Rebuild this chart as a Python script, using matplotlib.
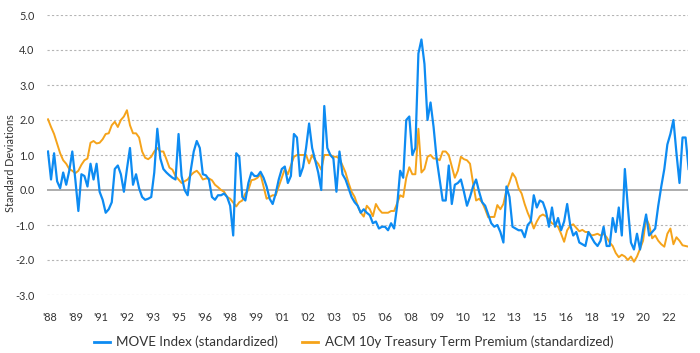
import numpy as np
import matplotlib.pyplot as plt
from matplotlib.lines import Line2D

# standardized series, one value every 2 months starting Jan 1988
move = [
    1.1, 0.3, 1.05, 0.25, 0.05, 0.5, 0.15, 0.55, 1.1, 0.3,
    -0.6, 0.45, 0.4, 0.1, 0.75, 0.3, 0.75, -0.05, -0.28, -0.65,
    -0.55, -0.35, 0.6, 0.7, 0.45, -0.05, 0.6, 1.2, 0.15, 0.45,
    0.05, -0.2, -0.28, -0.25, -0.2, 0.5, 1.75, 0.9, 0.6, 0.5,
    0.42, 0.35, 0.3, 1.6, 0.4, 0.0, -0.15, 0.55, 1.1, 1.4,
    1.2, 0.45, 0.42, 0.3, -0.2, -0.28, -0.15, -0.15, -0.1, -0.2,
    -0.45, -1.3, 1.05, 0.95, -0.2, -0.3, 0.2, 0.5, 0.4, 0.4,
    0.52, 0.35, 0.1, -0.25, -0.4, -0.1, 0.3, 0.6, 0.67, 0.2,
    0.4, 1.6, 1.5, 0.4, 0.65, 1.2, 1.9, 1.2, 0.85, 0.5,
    0.0, 2.4, 1.2, 1.0, 0.9, -0.05, 1.1, 0.45, 0.3, 0.05,
    -0.2, -0.35, -0.45, -0.65, -0.55, -0.65, -0.72, -0.95, -0.9, -1.1,
    -1.05, -1.05, -1.15, -0.95, -1.1, -0.45, 0.55, 0.35, 2.0, 2.1,
    1.0, 1.2, 3.9, 4.3, 3.6, 2.0, 2.5, 1.8, 0.9, 0.3,
    -0.3, -0.3, 0.7, -0.4, 0.15, 0.2, 0.3, -0.05, -0.45, -0.2,
    0.1, 0.3, -0.05, -0.35, -0.45, -0.7, -0.95, -1.05, -1.0, -1.2,
    -1.5, 0.1, -0.2, -1.05, -1.1, -1.15, -1.15, -1.35, -1.0, -0.9,
    -0.15, -0.5, -0.3, -0.35, -0.6, -1.05, -0.5, -1.05, -0.8, -1.15,
    -0.9, -0.4, -1.0, -1.3, -1.2, -1.5, -1.55, -1.6, -1.2, -1.35,
    -1.5, -1.6, -1.45, -1.05, -1.6, -1.6, -0.8, -1.2, -0.5, -1.3,
    0.6, -0.5, -1.5, -1.7, -1.25, -1.7, -1.15, -0.7, -1.3, -1.2,
    -1.1, -0.45, 0.1, 0.6, 1.3, 1.6, 2.0, 1.05, 0.2, 1.5,
    1.5, 0.6,
]
acm = [
    2.02, 1.8, 1.6, 1.32, 1.05, 0.85, 0.75, 0.6, 0.55, 0.48,
    0.55, 0.72, 0.85, 0.9, 1.35, 1.4, 1.33, 1.35, 1.45, 1.6,
    1.62, 1.85, 1.95, 1.8, 2.0, 2.1, 2.28, 1.85, 1.62, 1.62,
    1.5, 1.1, 0.92, 0.88, 0.95, 1.1, 1.2, 1.1, 1.1, 0.88,
    0.64, 0.58, 0.4, 0.3, 0.2, 0.25, 0.3, 0.42, 0.5, 0.55,
    0.45, 0.3, 0.33, 0.33, 0.28, 0.15, 0.08, 0.0, -0.05, -0.2,
    -0.25, -0.36, -0.47, -0.35, -0.3, -0.1, 0.0, 0.28, 0.3, 0.35,
    0.45, 0.1, -0.25, -0.2, -0.15, -0.15, 0.1, 0.35, 0.6, 0.45,
    0.7, 0.95, 1.0, 1.0, 1.0, 1.0, 0.76, 1.0, 0.85, 0.75,
    0.58, 1.0, 1.0, 1.0, 0.95, 0.95, 0.9, 0.7, 0.5, 0.2,
    -0.05, -0.2, -0.45, -0.65, -0.76, -0.45, -0.55, -0.75, -0.4, -0.55,
    -0.65, -0.65, -0.65, -0.6, -0.6, -0.38, -0.15, -0.2, 0.35, 0.65,
    0.45, 0.45, 1.75, 0.5, 0.6, 0.95, 1.0, 0.9, 0.9, 0.85,
    1.1, 1.1, 1.0, 0.67, 0.35, 0.55, 0.95, 0.88, 0.85, 0.75,
    0.2, -0.3, -0.25, -0.35, -0.55, -0.78, -0.77, -0.77, -0.43, -0.55,
    -0.4, 0.0, 0.22, 0.48, 0.35, 0.05, -0.1, -0.4, -0.65, -0.85,
    -1.1, -0.9, -0.75, -0.7, -0.75, -0.85, -0.95, -1.0, -1.05, -1.25,
    -1.48, -1.15, -1.02, -0.98, -1.08, -1.18, -1.14, -1.2, -1.2, -1.3,
    -1.28, -1.25, -1.3, -1.25, -1.35, -1.5, -1.6, -1.8, -1.92, -1.85,
    -1.9, -2.0, -1.9, -2.05, -1.9, -1.68, -1.45, -0.8, -1.0, -1.38,
    -1.3, -1.45, -1.55, -1.62, -1.25, -1.1, -1.55, -1.35, -1.45, -1.58,
    -1.6, -1.62,
]
tick_labels = ["'88", "'89", "'91", "'92", "'93", "'95", "'96", "'98", "'99",
               "'01", "'02", "'03", "'05", "'06", "'08", "'09", "'10", "'12",
               "'13", "'15", "'16", "'18", "'19", "'20", "'22"]
y_ticks = [-3, -2, -1, 0, 1, 2, 3, 4, 5]

BLUE = '#0d8bf2'
ORANGE = '#f5a31a'

plt.rcParams['font.family'] = ['Lato', 'DejaVu Sans']

fig = plt.figure(figsize=(7, 3.53), dpi=100)
ax = fig.add_axes([47 / 700, 1 - 295 / 353, 641 / 700, 280 / 353])

x_move = np.arange(len(move)) * 2
x_acm = np.arange(len(acm)) * 2

# grid: dotted lines, solid line at zero
for v in y_ticks:
    if v == 0:
        ax.axhline(0, color='#a0a0a0', lw=1.2, zorder=1)
    else:
        ax.axhline(v, color='#b5b5b5', lw=0.8, ls=(0, (2, 2)), zorder=1)

ax.plot(x_acm, acm, color=ORANGE, lw=1.4, zorder=2)
ax.plot(x_move, move, color=BLUE, lw=1.6, zorder=3)

ax.set_xlim(-0.66, 421.6)
ax.set_ylim(-3, 5)
ax.set_yticks(y_ticks)
ax.set_yticklabels([f'{v:.1f}' for v in y_ticks])
ax.set_xticks(np.arange(len(tick_labels)) * 17 + 1)
ax.set_xticklabels(tick_labels)
ax.tick_params(length=0, labelsize=7.8, colors='#333333')
ax.tick_params(axis='x', pad=12)
ax.tick_params(axis='y', pad=9)
for s in ax.spines.values():
    s.set_visible(False)

ax.set_ylabel('Standard Deviations', fontsize=7.8, color='#333333')
ax.yaxis.set_label_coords(-0.049, 0.47)

handles = [Line2D([], [], color=BLUE, lw=2),
           Line2D([], [], color=ORANGE, lw=2)]
fig.legend(handles, ['MOVE Index (standardized)',
                     'ACM 10y Treasury Term Premium (standardized)'],
           loc='center', bbox_to_anchor=(0.505, 1 - 342 / 353), ncol=2,
           frameon=False, fontsize=9.6, handlelength=1.2, handletextpad=0.5,
           columnspacing=1.8, labelcolor='#333333')

fig.savefig('out.png', dpi=100)
